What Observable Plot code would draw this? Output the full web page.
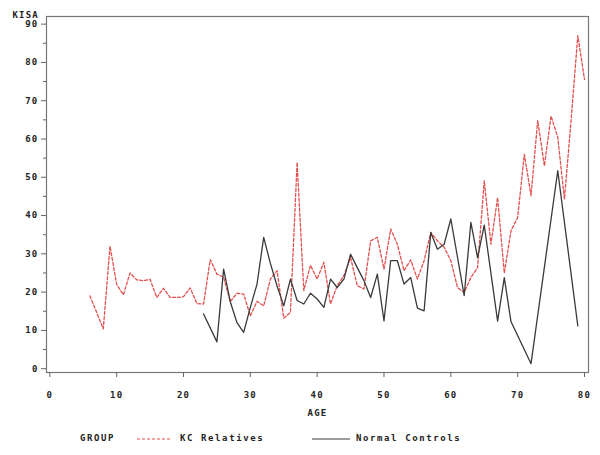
<!DOCTYPE html>
<html>
<head>
<meta charset="utf-8">
<script src="https://cdn.jsdelivr.net/npm/d3@7"></script>
<script src="https://cdn.jsdelivr.net/npm/@observablehq/plot@0.6"></script>
<style>
  body { margin: 0; background: #fff; }
  #wrap { width: 600px; }
  #legend { position: relative; width: 600px; height: 30px; font-family: "DejaVu Sans Mono", monospace; font-weight: bold; font-size: 9px; letter-spacing: 1.6px; color: #222; }
  #legend span, #legend svg { position: absolute; }
</style>
</head>
<body>
<div id="wrap"></div>
<script>
const kcAge = [6,8,9,10,11,12,13,14,15,16,17,18,19,20,21,22,23,24,25,26,27,28,29,30,31,32,33,34,35,36,37,38,39,40,41,42,43,44,45,46,47,48,49,50,51,52,53,54,55,56,57,58,59,60,61,62,63,64,65,66,67,68,69,70,71,72,73,74,75,76,77,78,79,80];
const kcKisa = [19,10.4,32,22,19.3,25,23.2,23,23.3,18.6,21,18.6,18.6,18.8,21.1,17,16.9,28.5,24.7,23.9,17.5,19.7,19.5,13.8,17.6,16.4,23.4,25.6,13.2,14.7,53.9,20.4,27,23.4,27.8,16.9,21.7,24.3,29,21.7,20.8,33.4,34.3,26,36.5,32.5,25.6,28.4,23.4,28.2,35.6,33.4,31.7,28.2,21.2,19.9,23.8,26.4,49.1,32.5,44.7,25,36,39.5,56,45.2,64.8,53,66,60.4,44.3,65,87,75.6];
const ncAge = [23,25,26,27,28,29,30,31,32,33,34,35,36,37,38,39,40,41,42,43,44,45,46,47,48,49,50,51,52,53,54,55,56,57,58,59,60,62,63,64,65,67,68,69,72,76,79];
const ncKisa = [14.3,7,26,17.5,12,9.5,16,22.1,34.3,27.5,21.6,16.4,23.4,17.8,16.9,19.7,18.2,16,23.4,21.2,23.4,29.9,26.4,23,18.6,24.7,12.5,28.2,28.2,22.1,23.8,15.8,15.1,35.6,31.2,32.5,39.1,19.1,38.2,29,37.5,12.4,23.8,12.3,1.3,51.7,11.2];
const xTicks = [0,10,20,30,40,50,60,70,80];
const yTicks = [0,10,20,30,40,50,60,70,80,90];
const yMinorTicks = [5,15,25,35,45,55,65,75,85];
const groups = ["KC Relatives", "Normal Controls"];

const kc = kcAge.map((a, i) => ({age: a, kisa: kcKisa[i]}));
const nc = ncAge.map((a, i) => ({age: a, kisa: ncKisa[i]}));

const chart = Plot.plot({
  width: 600,
  height: 425,
  marginLeft: 46,
  marginRight: 12,
  marginTop: 16,
  marginBottom: 53,
  style: {fontFamily: "DejaVu Sans Mono, monospace", fontSize: "9px", fontWeight: "bold", letterSpacing: "1.2px", color: "#222", background: "#fff"},
  x: {domain: [-0.5, 80.6]},
  y: {domain: [-1, 92]},
  marks: [
    Plot.frame({stroke: "#777", strokeWidth: 1.2}),
    Plot.axisX({ticks: xTicks, tickSize: 5, tickPadding: 14, label: null, tickFormat: d => d, stroke: "#666"}),
    Plot.axisY({ticks: yMinorTicks, tickSize: 3, tickFormat: () => "", label: null, stroke: "#666"}),
    Plot.axisY({ticks: yTicks, tickSize: 5, tickPadding: 3, label: null, tickFormat: d => d, stroke: "#666"}),
    Plot.line(kc, {x: "age", y: "kisa", stroke: "#e2504f", strokeWidth: 1.3, strokeDasharray: "3,2"}),
    Plot.line(nc, {x: "age", y: "kisa", stroke: "#3a3a3a", strokeWidth: 1.3}),
    Plot.text(["KISA"], {frameAnchor: "top-left", dx: -34, dy: -5, text: d => d, textAnchor: "start", fill: "#222"}),
    Plot.text(["AGE"], {frameAnchor: "bottom", dy: 43, text: d => d, fill: "#222"})
  ]
});
document.getElementById("wrap").appendChild(chart);

const legend = document.createElement("div");
legend.id = "legend";
legend.innerHTML =
  `<span style="left:80px;top:8px">GROUP</span>` +
  `<svg style="left:137px;top:12px" width="34" height="4"><line x1="0" y1="2" x2="34" y2="2" stroke="#e2504f" stroke-width="1.2" stroke-dasharray="3,2"/></svg>` +
  `<span style="left:180px;top:8px">${groups[0]}</span>` +
  `<svg style="left:312px;top:12px" width="38" height="4"><line x1="0" y1="2" x2="38" y2="2" stroke="#3a3a3a" stroke-width="1.2"/></svg>` +
  `<span style="left:356px;top:8px">${groups[1]}</span>`;
document.getElementById("wrap").appendChild(legend);
</script>
</body>
</html>
